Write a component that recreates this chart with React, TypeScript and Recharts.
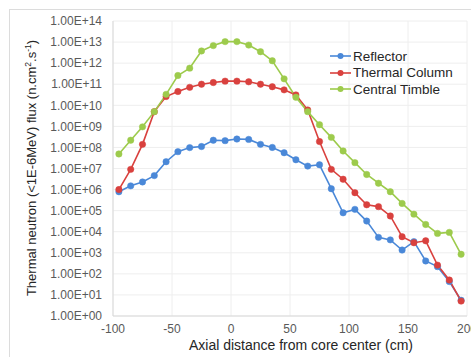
import { LineChart, Line, XAxis, YAxis, CartesianGrid, Legend } from 'recharts'

const positions = [-95, -85, -75, -65, -55, -45, -35, -25, -15, -5, 5, 15, 25, 35, 45, 55, 65, 75, 85, 95, 105, 115, 125, 135, 145, 155, 165, 175, 185, 195]

const reflector = [
	7.9e5, 1.5e6, 2.3e6, 4.6e6, 2.1e7, 6.3e7, 9.8e7, 1.1e8, 2.2e8, 2.1e8, 2.5e8, 2.4e8, 1.4e8, 1.0e8, 5.6e7,
	2.6e7, 1.3e7, 1.5e7, 1.1e6, 7.9e4, 1.15e5, 3.2e4, 5.4e3, 4.1e3, 1.35e3, 3.4e3, 4.1e2, 2.2e2, 43, 5.6,
]
const thermalColumn = [
	1.0e6, 9.1e6, 1.4e8, 5.0e9, 2.6e10, 4.5e10, 7.1e10, 1.0e11, 1.2e11, 1.4e11, 1.4e11, 1.3e11, 1.0e11, 7.6e10, 5.4e10,
	3.1e10, 6.0e9, 1.9e8, 9.1e6, 3.1e6, 7.1e5, 1.9e5, 1.55e5, 5.6e4, 5.8e3, 3.0e3, 3.7e3, 2.6e2, 51, 5.1,
]
const centralTimble = [
	4.9e7, 2.2e8, 9.5e8, 5.0e9, 3.3e10, 2.6e11, 5.8e11, 3.8e12, 6.8e12, 1.05e13, 1.05e13, 7.2e12, 3.5e12, 1.3e12, 1.8e11,
	2.4e10, 5.0e9, 1.2e9, 3.0e8, 6.8e7, 1.9e7, 5.2e6, 2.0e6, 7.9e5, 2.2e5, 6.8e4, 2.2e4, 8.3e3, 9.3e3, 8.5e2,
]

const xTicks = [-100, -50, 0, 50, 100, 150, 200]
const yTicks = [1, 1e1, 1e2, 1e3, 1e4, 1e5, 1e6, 1e7, 1e8, 1e9, 1e10, 1e11, 1e12, 1e13, 1e14]

const seriesList = [
	{ key: 'reflector', name: 'Reflector', color: '#4a88d8' },
	{ key: 'thermal', name: 'Thermal Column', color: '#d9413e' },
	{ key: 'timble', name: 'Central Timble', color: '#9dcb4c' },
]

const rows = positions.map((x, i) => ({
	x,
	reflector: reflector[i],
	thermal: thermalColumn[i],
	timble: centralTimble[i],
}))

const FONT = "'Liberation Sans', Arial, sans-serif"

const fmtExp = (v: number) => {
	const [m, e] = v.toExponential(2).split('e')
	const sign = e[0] === '-' ? '-' : '+'
	const digits = e.replace(/[+-]/, '').padStart(2, '0')
	return `${m}E${sign}${digits}`
}

const LegendBox = () => (
	<div style={{ fontFamily: FONT, fontSize: 13.5, color: '#262626', textAlign: 'left' }}>
		{seriesList.map((s) => (
			<div key={s.key} style={{ display: 'flex', alignItems: 'center', height: 16.5 }}>
				<svg width={22} height={10} style={{ marginRight: 1 }}>
					<line x1={0} y1={5} x2={21} y2={5} stroke={s.color} strokeWidth={1.6} />
					<circle cx={10.5} cy={5} r={3} fill={s.color} />
				</svg>
				<span>{s.name}</span>
			</div>
		))}
	</div>
)

export default function App() {
	return (
		<div style={{ position: 'absolute', left: 0, top: 0, width: 471, height: 357, overflow: 'hidden', background: '#fff' }}>
			<div style={{ position: 'absolute', left: 9, top: 9, width: 520, height: 420, border: '1px solid #dcdcdc' }} />
			<LineChart width={471} height={357} data={rows} margin={{ top: 21, right: 4, bottom: 0, left: 0 }} style={{ position: 'absolute', left: 0, top: 0 }}>
				<CartesianGrid stroke='#eeeeee' />
				<XAxis
					type='number'
					dataKey='x'
					domain={[-100, 200]}
					ticks={xTicks}
					interval={0}
					height={41}
					tickLine={false}
					axisLine={{ stroke: '#d9d9d9' }}
					tick={{ fill: '#595959', fontSize: 12, fontFamily: FONT }}
					tickMargin={2}
					label={{
						content: () => (
							<text x={301} y={350} textAnchor='middle' fontSize={14} fontFamily={FONT} fill='#262626'>
								Axial distance from core center (cm)
							</text>
						),
					}}
				/>
				<YAxis
					type='number'
					scale='log'
					domain={[1, 1e14]}
					ticks={yTicks}
					interval={0}
					allowDataOverflow
					width={113}
					tickLine={false}
					axisLine={{ stroke: '#d9d9d9' }}
					tick={{ fill: '#595959', fontSize: 12, fontFamily: FONT }}
					tickMargin={5}
					tickFormatter={fmtExp}
					label={{
						content: () => (
							<text transform='translate(36,168) rotate(-90)' textAnchor='middle' fontSize={13} fontFamily={FONT} fill='#262626'>
								Thermal neutron (&lt;1E-6MeV) flux (n.cm
								<tspan fontSize={8.5} dy={-5}>2</tspan>
								<tspan dy={5}>.s</tspan>
								<tspan fontSize={8.5} dy={-5}>-1</tspan>
								<tspan dy={5}>)</tspan>
							</text>
						),
					}}
				/>
				<Legend content={<LegendBox />} layout='vertical' verticalAlign='middle' align='center' wrapperStyle={{ left: 330, top: 48, width: 140 }} />
				{seriesList.map((s) => (
					<Line
						key={s.key}
						type='linear'
						dataKey={s.key}
						name={s.name}
						stroke={s.color}
						strokeWidth={1.6}
						dot={{ r: 3.2, fill: s.color, stroke: s.color, strokeWidth: 0.5 }}
						isAnimationActive={false}
					/>
				))}
			</LineChart>
		</div>
	)
}
